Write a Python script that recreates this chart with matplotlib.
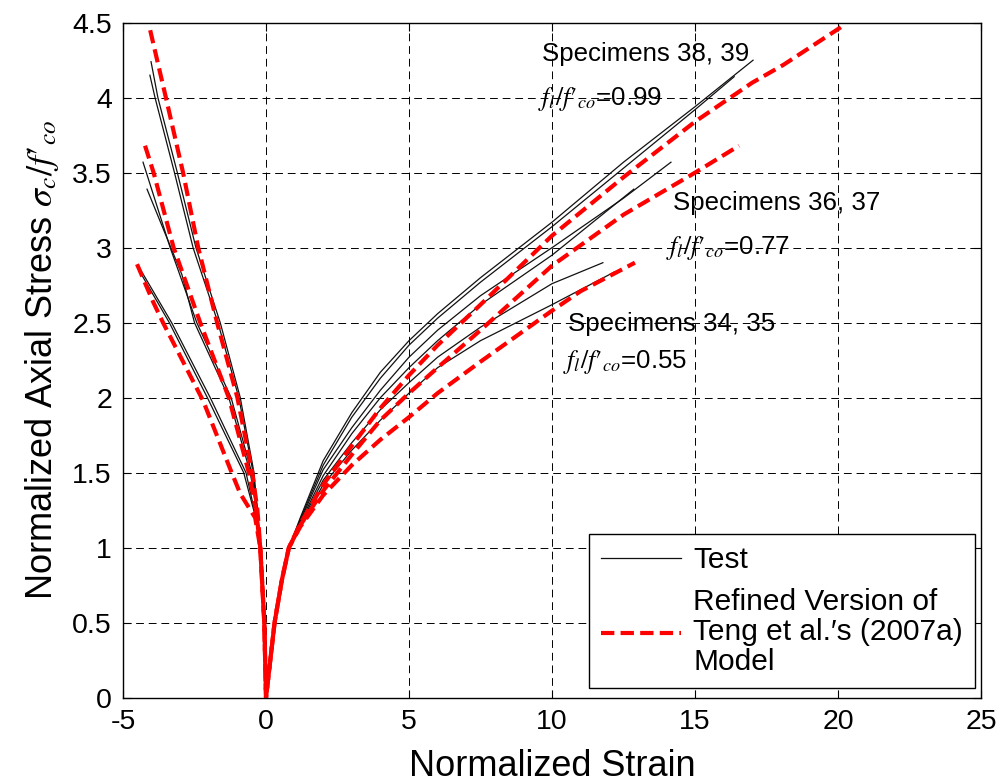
import matplotlib
matplotlib.use("Agg")
import matplotlib.pyplot as plt
from matplotlib.ticker import FuncFormatter

plt.rcParams['font.family'] = ['Liberation Sans', 'DejaVu Sans']
plt.rcParams['mathtext.fontset'] = 'stix'
plt.rcParams['axes.unicode_minus'] = False

# ---------------- data (normalized strain, normalized axial stress) ----------------
# Test curves: lateral branch (negative strain) -> origin -> axial branch
t99a_x = [-4.02, -3.78, -3.1, -2.45, -1.6, -0.9, -0.42, -0.3, -0.2, -0.06, 0,
          0.3, 0.55, 0.8, 1.2, 2, 3, 4, 5, 6, 7.5, 10, 12.5, 15, 17.03]
t99a_y = [4.24, 4.0, 3.5, 3.0, 2.5, 2.0, 1.5, 1.25, 1.0, 0.5, 0,
          0.5, 0.78, 1.0, 1.2, 1.58, 1.9, 2.17, 2.38, 2.56, 2.8, 3.17, 3.57, 3.94, 4.25]
t99b_x = [-4.06, -3.88, -3.2, -2.55, -1.68, -0.95, -0.45, -0.3, -0.2, -0.06, 0,
          0.3, 0.55, 0.8, 1.2, 2, 3, 4, 5, 6, 7.5, 10, 12.5, 15, 16.37]
t99b_y = [4.15, 4.0, 3.5, 3.0, 2.5, 2.0, 1.5, 1.25, 1.0, 0.5, 0,
          0.5, 0.78, 1.0, 1.19, 1.55, 1.87, 2.13, 2.35, 2.53, 2.77, 3.14, 3.53, 3.92, 4.14]
t77a_x = [-4.3, -3.35, -2.42, -1.22, -0.5, -0.32, -0.2, -0.06, 0,
          0.3, 0.55, 0.8, 1.2, 2, 3, 4, 5, 6, 7.5, 10, 12.5, 14.16]
t77a_y = [3.57, 3.0, 2.5, 2.0, 1.5, 1.25, 1.0, 0.5, 0,
          0.5, 0.78, 1.0, 1.18, 1.52, 1.8, 2.05, 2.27, 2.45, 2.68, 3.0, 3.33, 3.57]
t77b_x = [-4.16, -2.94, -2.5, -1.3, -0.55, -0.33, -0.2, -0.06, 0,
          0.3, 0.55, 0.8, 1.2, 2, 3, 4, 5, 6, 7.5, 10, 12.86]
t77b_y = [3.39, 2.82, 2.5, 2.0, 1.5, 1.25, 1.0, 0.5, 0,
          0.5, 0.78, 1.0, 1.17, 1.48, 1.76, 2.0, 2.2, 2.38, 2.62, 2.95, 3.39]
t55a_x = [-4.47, -3.3, -1.95, -0.7, -0.35, -0.2, -0.06, 0,
          0.3, 0.55, 0.8, 1.2, 2, 3, 4, 5, 6, 7.5, 10, 11.78]
t55a_y = [2.88, 2.5, 2.0, 1.5, 1.2, 1.0, 0.5, 0,
          0.5, 0.78, 1.0, 1.16, 1.45, 1.7, 1.92, 2.1, 2.27, 2.47, 2.76, 2.9]
t55b_x = [-4.35, -3.38, -2.05, -0.78, -0.36, -0.2, -0.06, 0,
          0.3, 0.55, 0.8, 1.2, 2, 3, 4, 5, 6, 7.5, 10, 12.2]
t55b_y = [2.82, 2.5, 2.0, 1.5, 1.2, 1.0, 0.5, 0,
          0.5, 0.78, 1.0, 1.15, 1.42, 1.65, 1.85, 2.03, 2.2, 2.38, 2.62, 2.84]

# Model curves (refined Teng et al. 2007a)
m99_x = [-4.05, -3.5, -2.9, -2.37, -1.71, -1.0, -0.48, -0.3, -0.2, -0.06, 0,
         0.3, 0.55, 0.8, 1.2, 2, 3, 4, 5, 6, 7.5, 10, 12.5, 15, 17, 18.1, 20.1]
m99_y = [4.45, 4.0, 3.5, 3.0, 2.5, 2.0, 1.5, 1.25, 1.0, 0.5, 0,
         0.5, 0.78, 1.0, 1.16, 1.42, 1.68, 1.93, 2.15, 2.35, 2.62, 3.08, 3.47, 3.84, 4.1, 4.22, 4.47]
m77_x = [-4.23, -3.93, -3.23, -2.3, -1.3, -0.6, -0.35, -0.2, -0.06, 0,
         0.3, 0.55, 0.8, 1.2, 2, 3, 4, 5, 6, 7.5, 10, 12.5, 15, 16.54]
m77_y = [3.68, 3.5, 3.0, 2.5, 2.0, 1.5, 1.25, 1.0, 0.5, 0,
         0.5, 0.78, 1.0, 1.15, 1.38, 1.62, 1.85, 2.03, 2.2, 2.45, 2.88, 3.22, 3.5, 3.68]
m55_x = [-4.51, -3.95, -3.6, -2.2, -1.2, -0.9, -0.38, -0.2, -0.06, 0,
         0.3, 0.55, 0.8, 1.2, 2, 3, 4, 5, 6, 7.5, 10, 11, 12.9]
m55_y = [2.89, 2.64, 2.5, 1.98, 1.5, 1.36, 1.2, 1.0, 0.5, 0,
         0.5, 0.78, 1.0, 1.14, 1.35, 1.55, 1.72, 1.87, 2.03, 2.24, 2.58, 2.71, 2.9]

x_ticks = [-5, 0, 5, 10, 15, 20, 25]
y_ticks = [0, 0.5, 1, 1.5, 2, 2.5, 3, 3.5, 4, 4.5]

ratio_tex = r"$f_l/f\prime_{co}$"
annotations = [
    (9.64, 4.29, "Specimens 38, 39"),
    (9.5, 3.99, ratio_tex + "=0.99"),
    (14.23, 3.30, "Specimens 36, 37"),
    (13.98, 3.0, ratio_tex + "=0.77"),
    (10.55, 2.49, "Specimens 34, 35"),
    (10.38, 2.24, ratio_tex + "=0.55"),
]

# ---------------- figure ----------------
fig = plt.figure(figsize=(10.05, 7.83), dpi=100)
ax = fig.add_axes([0.1224, 0.109, 0.8537, 0.862])

test_kw = dict(color='#111111', lw=0.9)
model_kw = dict(color='red', lw=3.0, linestyle=(0, (3.2, 1.5)))

tests = [(t99a_x, t99a_y), (t99b_x, t99b_y), (t77a_x, t77a_y),
         (t77b_x, t77b_y), (t55a_x, t55a_y), (t55b_x, t55b_y)]
models = [(m99_x, m99_y), (m77_x, m77_y), (m55_x, m55_y)]

for i, (xs, ys) in enumerate(tests):
    ax.plot(xs, ys, label="Test" if i == 0 else None, **test_kw)
for i, (xs, ys) in enumerate(models):
    ax.plot(xs, ys, label="Refined Version of\nTeng et al.\u2032s (2007a)\nModel" if i == 0 else None,
            **model_kw)

ax.set_xlim(-5, 25)
ax.set_ylim(0, 4.5)
ax.set_xticks(x_ticks)
ax.set_yticks(y_ticks)
fmt = FuncFormatter(lambda v, p: f"{v:g}")
ax.xaxis.set_major_formatter(fmt)
ax.yaxis.set_major_formatter(fmt)
ax.tick_params(direction='in', length=6, width=0.8, labelsize=20.5, top=True, right=True, pad=8)
for s in ax.spines.values():
    s.set_linewidth(1.0)

ax.grid(True, color='black', lw=0.7, linestyle=(0, (8, 5)))

ax.set_xlabel("Normalized Strain", fontsize=26, labelpad=10)
ax.set_ylabel(r"Normalized Axial Stress $\sigma_c/f\prime_{co}$", fontsize=26, labelpad=8)

for x, y, s in annotations:
    ax.text(x, y, s, fontsize=18.6, ha='left', va='center')

leg = ax.legend(loc='lower right', bbox_to_anchor=(0.993, 0.014), borderaxespad=0,
                fontsize=21.5, fancybox=False, edgecolor='black', framealpha=1,
                handlelength=2.7, handletextpad=0.4, borderpad=0.4, labelspacing=0.45)
leg.get_frame().set_linewidth(1.0)
for t in leg.get_texts():
    t.set_linespacing(1.1)

fig.savefig("out.png", dpi=100)
